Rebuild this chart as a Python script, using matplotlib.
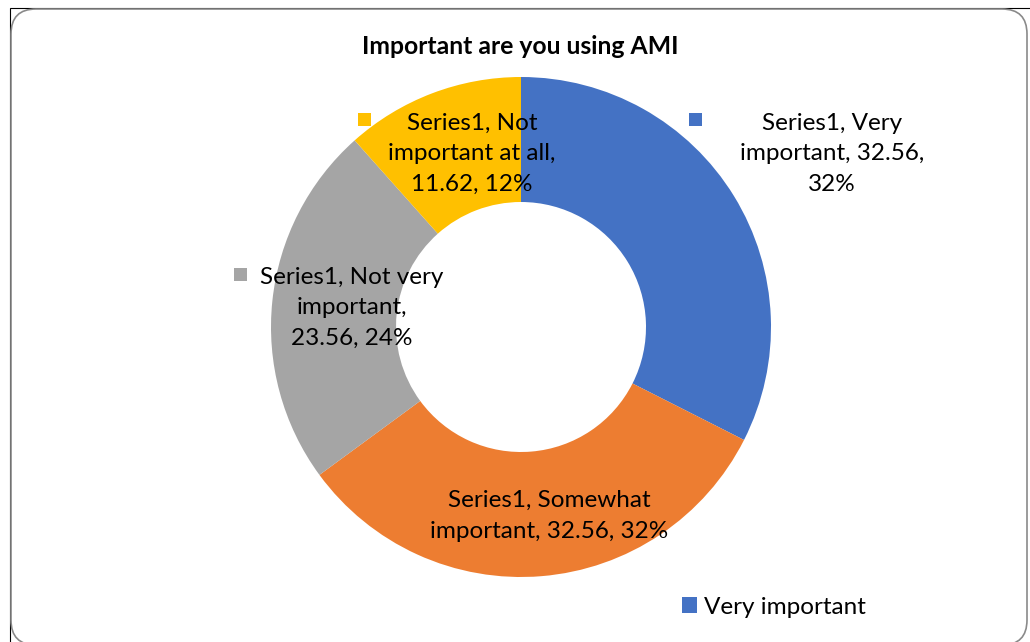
import matplotlib
matplotlib.use("Agg")
import matplotlib.pyplot as plt
from matplotlib.patches import FancyBboxPatch, Rectangle

plt.rcParams["font.family"] = ["Lato", "DejaVu Sans"]

title = "Important are you using AMI"
series_name = "Series1"
categories = ["Very important", "Somewhat important", "Not very important", "Not important at all"]
values = [32.56, 32.56, 23.56, 11.62]
percents = [32, 32, 24, 12]
colors = ["#4472C4", "#ED7D31", "#A5A5A5", "#FFC000"]

W, H = 1030, 642


def py(y):
    # pixel row (from top) to data y
    return H - y


fig = plt.figure(figsize=(W / 100, H / 100), dpi=100)
ax = fig.add_axes([0, 0, 1, 1])
ax.set_xlim(0, W)
ax.set_ylim(0, H)
ax.set_aspect("equal")
ax.axis("off")

# chart frame
ax.add_patch(Rectangle((10, py(H + 20)), W, H + 20 - 8, fill=False,
                       edgecolor="black", lw=0.8))
ax.add_patch(FancyBboxPatch((11 + 25, py(645) + 25), 1016 - 50, 636 - 50,
                            boxstyle="round,pad=25", facecolor="white",
                            edgecolor="#8a8a8a", lw=1.2))

wedges, _ = ax.pie(values, colors=colors, startangle=90, counterclock=False,
                   center=(521, py(327)), radius=250, frame=True,
                   wedgeprops=dict(width=125, edgecolor="none"))
ax.set_xlim(0, W)
ax.set_ylim(0, H)
ax.axis("off")

ax.text(520, py(47), title, ha="center", va="center", fontsize=17.8,
        fontweight="bold", color="black")

# data labels: text lines, centre x, first line y, marker position
label_lines = [
    [f"{series_name}, Very", f"{categories[0].split()[1]}, {values[0]:.2f},", f"{percents[0]}%"],
    [f"{series_name}, Somewhat", f"{categories[1].split()[1]}, {values[1]:.2f}, {percents[1]}%"],
    [f"{series_name}, Not very", f"{categories[2].split()[2]},", f"{values[2]:.2f}, {percents[2]}%"],
    [f"{series_name}, Not", "important at all,", f"{values[3]:.2f}, {percents[3]}%"],
]
label_cx = [832, 549, 352, 472]
label_y0 = [122, 500, 276, 122]
marker_xy = [(695, 119), None, (240, 274), (364, 119)]

for lines, cx, y0, mk, c in zip(label_lines, label_cx, label_y0, marker_xy, colors):
    ax.text(cx, py(y0 + 32 * (len(lines) - 1) / 2), "\n".join(lines),
            ha="center", va="center", fontsize=17.5, linespacing=1.55,
            color="black")
    if mk is not None:
        ax.add_patch(Rectangle((mk[0] - 6.5, py(mk[1]) - 6.5), 13, 13,
                               facecolor=c, edgecolor="none"))

leg = ax.legend([wedges[0]], [categories[0]], loc="center left",
                bbox_to_anchor=(682 / W, 1 - 607 / H), frameon=False,
                fontsize=17.5, handlelength=0.6, handleheight=0.6,
                handletextpad=0.3, borderaxespad=0, borderpad=0)

fig.savefig("out.png", dpi=100)
